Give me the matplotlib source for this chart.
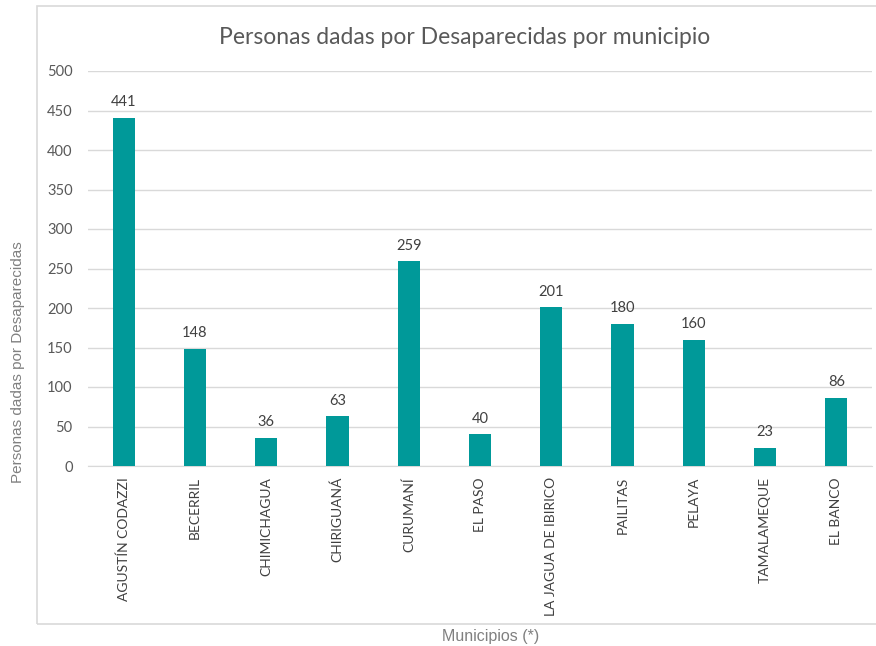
import matplotlib.pyplot as plt
from matplotlib.patches import Rectangle

municipios = ['AGUSTÍN CODAZZI', 'BECERRIL', 'CHIMICHAGUA', 'CHIRIGUANÁ', 'CURUMANÍ',
              'EL PASO', 'LA JAGUA DE IBIRICO', 'PAILITAS', 'PELAYA', 'TAMALAMEQUE', 'EL BANCO']
personas = [441, 148, 36, 63, 259, 40, 201, 180, 160, 23, 86]
yticks = [0, 50, 100, 150, 200, 250, 300, 350, 400, 450, 500]

plt.rcParams['font.family'] = ['Lato', 'DejaVu Sans']

fig = plt.figure(figsize=(8.76, 6.46), dpi=100)
ax = fig.add_axes([88 / 876, 1 - 466 / 646, (872 - 88) / 876, (466 - 71) / 646])

x = range(len(municipios))
bars = ax.bar(x, personas, width=0.31, color='#009999', zorder=3)
for b, v in zip(bars, personas):
    ax.text(b.get_x() + b.get_width() / 2, v + 11, str(v), ha='center', va='bottom',
            fontsize=10.5, color='#404040')

ax.set_xlim(-0.5, len(municipios) - 0.5)
ax.set_ylim(0, 500)
ax.set_yticks(yticks)
ax.set_xticks(list(x))
ax.set_xticklabels(municipios, rotation=90, fontsize=10, color='#404040')
ax.tick_params(axis='y', labelsize=10.5, labelcolor='#595959', length=0, pad=11)
ax.tick_params(axis='x', length=0, pad=8)
ax.grid(axis='y', color='#d9d9d9', linewidth=1, zorder=0)
for s in ['top', 'right', 'left']:
    ax.spines[s].set_visible(False)
ax.spines['bottom'].set_color('#d9d9d9')

fig.text(465 / 876, 1 - 37 / 646, 'Personas dadas por Desaparecidas por municipio',
         ha='center', va='center', fontsize=16.5, color='#595959')
fig.text(18 / 876, 1 - 362 / 646, 'Personas dadas por Desaparecidas', rotation=90,
         ha='center', va='center', fontsize=11, color='#808080', family='Liberation Sans')
fig.text(491 / 876, 1 - 636 / 646, 'Municipios (*)', ha='center', va='center',
         fontsize=11.5, color='#808080', family='Liberation Sans')

fig.patches.append(Rectangle((37 / 876, 1 - 624 / 646), 1, (624 - 6) / 646,
                             transform=fig.transFigure, fill=False,
                             edgecolor='#d9d9d9', linewidth=1.2))

fig.savefig('out.png', dpi=100)
